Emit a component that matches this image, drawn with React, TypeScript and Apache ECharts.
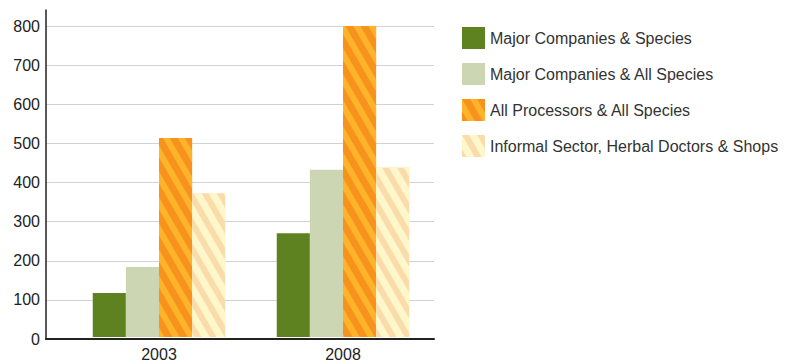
import React, { useEffect, useRef } from "react";
import * as echarts from "echarts";

const categories = ["2003", "2008"];
const seriesNames = [
  "Major Companies & Species",
  "Major Companies & All Species",
  "All Processors & All Species",
  "Informal Sector, Herbal Doctors & Shops",
];
const majorSpecies = [113, 267];
const majorAll = [180, 430];
const allProcessors = [512, 800];
const informal = [370, 436];
const yTicks = [0, 100, 200, 300, 400, 500, 600, 700, 800];

const FONT = "'Liberation Sans', Arial, sans-serif";

export default function App() {
  const ref = useRef<HTMLDivElement>(null);
  useEffect(() => {
    if (!ref.current) return;
    const chart = echarts.init(ref.current, undefined, { renderer: "svg" });
    const values = [majorSpecies, majorAll, allProcessors, informal];
    const colors = ["#5e8220", "#cdd6b2", "#f7931c", "#fadcaa"];
    const decals: any[] = [
      null,
      null,
      {
        symbol: "rect",
        symbolSize: 1,
        dashArrayX: [1, 0],
        dashArrayY: [6, 7],
        rotation: Math.PI / 3,
        color: "rgba(255,188,45,0.8)",
      },
      {
        symbol: "rect",
        symbolSize: 1,
        dashArrayX: [1, 0],
        dashArrayY: [7, 6],
        rotation: Math.PI / 3,
        color: "rgba(255,248,205,0.95)",
      },
    ];
    chart.setOption({
      animation: false,
      backgroundColor: "#ffffff",
      textStyle: { fontFamily: FONT },
      legend: {
        orient: "vertical",
        left: 457,
        top: 22,
        itemWidth: 23,
        itemHeight: 22,
        itemGap: 14,
        icon: "rect",
        textStyle: { fontSize: 16, color: "#333333", fontFamily: FONT },
        data: seriesNames,
      },
      grid: [
        { left: 46, right: 352, top: 26, bottom: 23 },
        { left: 67, right: 351, top: 26, bottom: 23 },
        { left: 46, right: 352, top: 10, bottom: 23 },
      ],
      xAxis: [
        {
          gridIndex: 0,
          type: "value",
          axisLine: { show: true, lineStyle: { color: "#222222", width: 2 } },
          axisTick: { show: false },
          axisLabel: { show: false },
          splitLine: { show: false },
        },
        {
          gridIndex: 1,
          type: "category",
          data: categories,
          axisLine: { show: false },
          axisTick: { show: false },
          axisLabel: { fontSize: 16, color: "#222222", margin: 9, fontFamily: FONT },
          splitLine: { show: false },
        },
        {
          gridIndex: 2,
          type: "value",
          show: false,
        },
      ],
      yAxis: [
        {
          gridIndex: 0,
          type: "value",
          min: yTicks[0],
          max: yTicks[yTicks.length - 1],
          interval: 100,
          axisLine: { show: false },
          axisTick: { show: false },
          axisLabel: { fontSize: 16, color: "#222222", margin: 6, fontFamily: FONT },
          splitLine: { show: true, lineStyle: { color: "#d2d2d2", width: 1 } },
        },
        {
          gridIndex: 1,
          type: "value",
          min: yTicks[0],
          max: yTicks[yTicks.length - 1],
          interval: 100,
          show: false,
        },
        {
          gridIndex: 2,
          type: "value",
          min: 0,
          max: 1,
          axisLine: { show: true, lineStyle: { color: "#222222", width: 1.5 } },
          axisTick: { show: false },
          axisLabel: { show: false },
          splitLine: { show: false },
        },
      ],
      series: seriesNames.map((name, i) => ({
        name,
        type: "bar",
        xAxisIndex: 1,
        yAxisIndex: 1,
        data: values[i],
        barGap: "0%",
        barCategoryGap: "28%",
        itemStyle: decals[i]
          ? { color: colors[i], decal: decals[i] }
          : { color: colors[i] },
      })),
    });
    return () => chart.dispose();
  }, []);
  return (
    <div
      ref={ref}
      style={{ position: "fixed", left: 0, top: 0, width: 786, height: 362, background: "#fff" }}
    />
  );
}
